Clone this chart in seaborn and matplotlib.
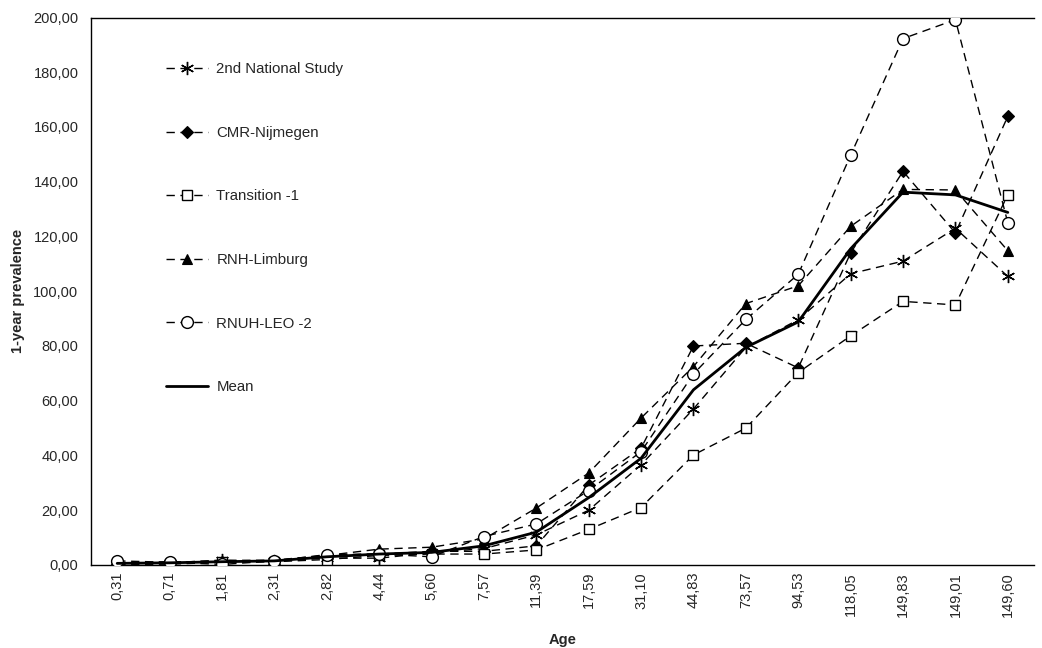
import matplotlib
matplotlib.use("Agg")
import matplotlib.pyplot as plt
import seaborn as sns
import numpy as np
import pandas as pd

ages = ["0,31", "0,71", "1,81", "2,31", "2,82", "4,44", "5,60", "7,57", "11,39",
        "17,59", "31,10", "44,83", "73,57", "94,53", "118,05", "149,83", "149,01", "149,60"]

national = [0.5, 0.8, 1.8, 1.5, 2.5, 2.5, 4.5, 6.0, 11.0, 20.0, 36.6, 57.0, 79.5, 89.6, 106.4, 111.0, 123.0, 105.4]
cmr = [0.5, 1.2, 1.2, 1.5, 3.8, 4.0, 5.0, 5.0, 7.0, 29.2, 42.7, 80.0, 81.0, 72.0, 114.0, 143.8, 121.3, 163.9]
transition = [0.2, 0.3, 1.0, 1.2, 2.0, 3.5, 4.0, 4.0, 5.5, 13.0, 21.0, 40.2, 50.0, 70.3, 83.7, 96.3, 95.0, 135.3]
rnh = [0.5, 1.0, 1.5, 1.8, 3.5, 5.8, 6.5, 9.5, 20.8, 33.6, 53.7, 72.5, 95.5, 102.0, 123.7, 137.2, 137.0, 114.8]
rnuh = [1.5, 1.0, 0.2, 1.5, 3.5, 4.0, 3.0, 10.4, 15.0, 27.2, 41.4, 69.8, 89.7, 106.2, 149.7, 192.3, 199.2, 125.0]
mean = [0.6, 0.8, 1.2, 1.5, 3.0, 4.0, 4.6, 7.0, 12.0, 24.6, 39.0, 64.0, 79.5, 88.8, 115.5, 136.2, 135.2, 128.8]

series_names = ["2nd National Study", "CMR-Nijmegen", "Transition -1", "RNH-Limburg", "RNUH-LEO -2", "Mean"]
series_values = [national, cmr, transition, rnh, rnuh, mean]

sns.set_style("white")
plt.rcParams["font.family"] = ["Liberation Sans", "DejaVu Sans"]

W, H = 1042, 648
fig = plt.figure(figsize=(W / 100, H / 100), dpi=100)
left, right, top, bottom = 91, 1034, 17.5, 565
ax = fig.add_axes([left / W, (H - bottom) / H, (right - left) / W, (bottom - top) / H])

styles = [
    dict(marker=(6, 2, 0), markersize=9.5, markerfacecolor="black", markeredgewidth=1.0),
    dict(marker="D", markersize=6.5, markerfacecolor="black", markeredgewidth=0.8),
    dict(marker="s", markersize=7.5, markerfacecolor="white", markeredgewidth=1.0),
    dict(marker="^", markersize=7.5, markerfacecolor="black", markeredgewidth=0.8),
    dict(marker="o", markersize=8.5, markerfacecolor="white", markeredgewidth=1.0),
]

x = np.arange(len(ages))
for i, (name, vals) in enumerate(zip(series_names, series_values)):
    df = pd.DataFrame({"x": x, "y": vals})
    if name == "Mean":
        sns.lineplot(data=df, x="x", y="y", ax=ax, color="black", linewidth=2.0,
                     label=name, sort=False, errorbar=None, zorder=5)
    else:
        sns.lineplot(data=df, x="x", y="y", ax=ax, color="black", linewidth=1.0,
                     linestyle=(0, (6, 4)), markeredgecolor="black",
                     label=name, sort=False, errorbar=None, zorder=3, **styles[i])

ax.set_xlim(-0.5, len(ages) - 0.5)
ax.set_ylim(0, 200)
ax.set_yticks(np.arange(0, 201, 20))
ax.set_yticklabels([f"{v:.2f}".replace(".", ",") for v in np.arange(0, 201, 20)], fontsize=10.5)
ax.set_xticks(x)
ax.set_xticklabels(ages, rotation=90, fontsize=10.5)
ax.set_xticks(np.arange(0.5, len(ages) - 0.5, 1), minor=True)
ax.tick_params(axis="x", which="major", length=0, pad=5)
ax.tick_params(axis="x", which="minor", length=5, width=1, color="black", direction="out")
ax.tick_params(axis="y", which="major", length=5, width=1, color="black", direction="out", pad=4)

for s in ["left", "bottom", "top"]:
    ax.spines[s].set_visible(True)
    ax.spines[s].set_color("black")
    ax.spines[s].set_linewidth(1.0)
ax.spines["right"].set_visible(False)

ax.set_xlabel("Age", fontsize=10.5, fontweight="bold", labelpad=12)
ax.set_ylabel("1-year prevalence", fontsize=10.5, fontweight="bold", labelpad=6)

leg = ax.legend(loc="upper left", bbox_to_anchor=(158 / W, 1 - 55 / H), bbox_transform=fig.transFigure,
                frameon=False, fontsize=10.8, labelspacing=3.3, handlelength=2.8,
                handletextpad=0.6, borderpad=0)

fig.savefig("out.png", dpi=100)
